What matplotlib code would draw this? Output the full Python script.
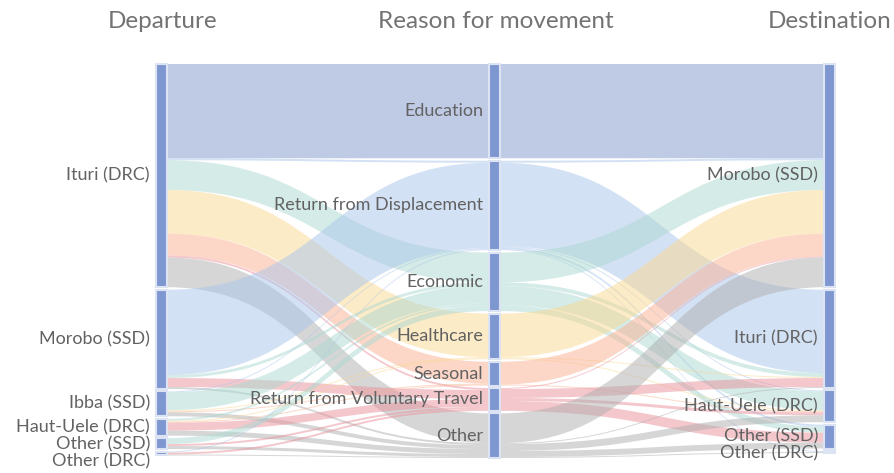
import matplotlib.pyplot as plt
from matplotlib.path import Path
from matplotlib.patches import PathPatch, Rectangle

plt.rcParams['font.family'] = ['Lato', 'DejaVu Sans']

# columns
departure = ["Ituri (DRC)", "Morobo (SSD)", "Ibba (SSD)", "Haut-Uele (DRC)", "Other (SSD)", "Other (DRC)"]
reasons = ["Education", "Return from Displacement", "Economic", "Healthcare", "Seasonal",
           "Return from Voluntary Travel", "Other"]
destination = ["Morobo (SSD)", "Ituri (DRC)", "Haut-Uele (DRC)", "Other (SSD)", "Other (DRC)"]
headers = ["Departure", "Reason for movement", "Destination"]

# departure -> reason (rows = departure, cols = reasons)
dep_to_reason = [
    [95, 2, 30, 44, 22, 2, 30],   # Ituri (DRC)
    [0, 86, 3, 0, 0, 9, 2],       # Morobo (SSD)
    [0, 1, 18, 1, 1, 0, 4],       # Ibba (SSD)
    [0, 0, 2, 1, 1, 8, 5],        # Haut-Uele (DRC)
    [0, 0, 6, 0, 0, 2, 3],        # Other (SSD)
    [0, 1, 0, 0, 0, 2, 1],        # Other (DRC)
]
# reason -> destination (rows = reasons, cols = destination)
reason_to_dest = [
    [95, 0, 0, 0, 0],    # Education
    [2, 84, 1, 2, 1],    # Return from Displacement
    [30, 4, 19, 6, 0],   # Economic
    [44, 1, 1, 0, 0],    # Healthcare
    [23, 0, 1, 0, 0],    # Seasonal
    [1, 9, 3, 10, 0],    # Return from Voluntary Travel
    [30, 1, 7, 6, 1],    # Other
]

reason_colors = ["#8197cd", "#a9c5eb", "#abd9d1", "#fbd991", "#fbb191", "#e9919b", "#afafaf"]
node_color = "#7f97d1"
node_edge = "#dce3f3"
text_color = "#626262"

W, H = 894, 473
fig = plt.figure(figsize=(W / 100, H / 100), dpi=100)
ax = fig.add_axes([0, 0, 1, 1])
ax.set_xlim(0, W)
ax.set_ylim(H, 0)
ax.axis("off")

col_x = [156, 489, 824]
node_w = 11
top, bottom = 64, 458
pad = 2.5

n_dep, n_rea, n_dst = len(departure), len(reasons), len(destination)
dep_tot = [sum(r) for r in dep_to_reason]
rea_in = [sum(dep_to_reason[i][r] for i in range(n_dep)) for r in range(n_rea)]
rea_tot = [max(a, sum(b)) for a, b in zip(rea_in, reason_to_dest)]
dst_tot = [sum(reason_to_dest[r][j] for r in range(n_rea)) for j in range(n_dst)]
columns = [dep_tot, rea_tot, dst_tot]
ky = min((bottom - top - (len(c) - 1) * pad) / sum(c) for c in columns)

# node positions
node_y = []
for c in columns:
    ys, y = [], top
    for v in c:
        ys.append((y, y + v * ky))
        y += v * ky + pad
    node_y.append(ys)


def band(x0, a0, a1, x1, b0, b1, color):
    xm = (x0 + x1) / 2
    verts = [(x0, a0), (xm, a0), (xm, b0), (x1, b0), (x1, b1),
             (xm, b1), (xm, a1), (x0, a1), (x0, a0)]
    codes = [Path.MOVETO, Path.CURVE4, Path.CURVE4, Path.CURVE4, Path.LINETO,
             Path.CURVE4, Path.CURVE4, Path.CURVE4, Path.CLOSEPOLY]
    ax.add_patch(PathPatch(Path(verts, codes), facecolor=color, edgecolor="none",
                           alpha=0.5, zorder=1))


def draw_links(matrix, left, right, xl, xr, color_by_target):
    n_s, n_t = len(matrix), len(matrix[0])
    out_off = [node_y[left][i][0] for i in range(n_s)]
    in_off = [node_y[right][j][0] for j in range(n_t)]
    # outgoing sorted by target order, incoming by source order
    src_pos = {}
    for i in range(n_s):
        for j in range(n_t):
            v = matrix[i][j] * ky
            if v > 0:
                src_pos[(i, j)] = (out_off[i], out_off[i] + v)
                out_off[i] += v
    tgt_pos = {}
    for j in range(n_t):
        for i in range(n_s):
            v = matrix[i][j] * ky
            if v > 0:
                tgt_pos[(i, j)] = (in_off[j], in_off[j] + v)
                in_off[j] += v
    for (i, j), (a0, a1) in src_pos.items():
        b0, b1 = tgt_pos[(i, j)]
        c = reason_colors[j] if color_by_target else reason_colors[i]
        band(xl, a0, a1, xr, b0, b1, c)


draw_links(dep_to_reason, 0, 1, col_x[0] + node_w, col_x[1], True)
draw_links(reason_to_dest, 1, 2, col_x[1] + node_w, col_x[2], False)

labels = [departure, reasons, destination]
for k in range(3):
    prev = -1e9
    for name, (y0, y1) in zip(labels[k], node_y[k]):
        ax.add_patch(Rectangle((col_x[k], y0), node_w, max(y1 - y0, 1.5),
                               facecolor=node_color, edgecolor=node_edge, linewidth=1.5, zorder=3))
        ly = max((y0 + y1) / 2, prev + 17)
        prev = ly
        ax.text(col_x[k] - 6, ly, name, ha="right", va="center", fontsize=13,
                color=text_color, zorder=4)

for x, h in zip([163, 496, 830], headers):
    ax.text(x, 22, h, ha="center", va="center", fontsize=17.5, color="#737373")

fig.savefig("out.png", dpi=100)
